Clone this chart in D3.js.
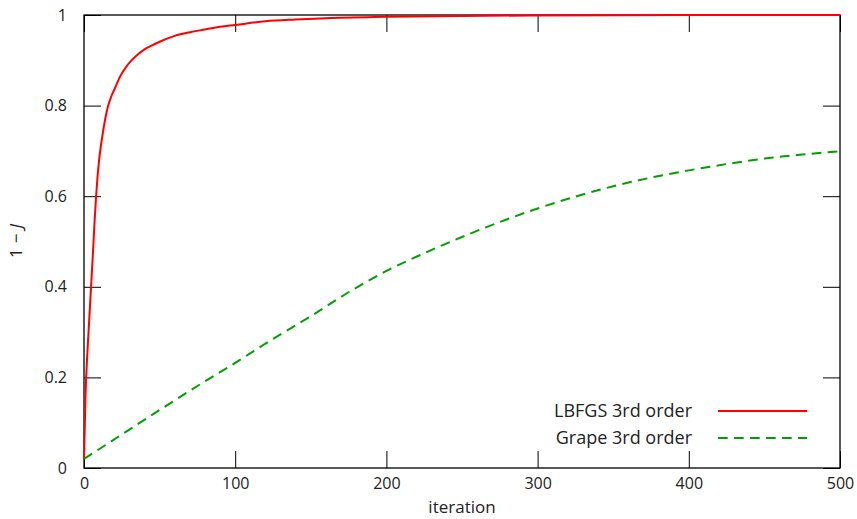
<!DOCTYPE html>
<html>
<head>
<meta charset="utf-8">
<script src="https://cdn.jsdelivr.net/npm/d3@7"></script>
<style>
  html, body { margin: 0; padding: 0; background: #fff; }
  svg text { font-family: "Open Sans", "DejaVu Sans", sans-serif; fill: #222; }
</style>
</head>
<body>
<svg id="chart" width="857" height="519"></svg>
<script>
// Convergence of 1 - J over the optimisation iterations
const lbfgsIter = [0, 1, 2, 3, 4, 5, 6, 7, 8, 9, 10, 12, 14, 16, 18, 20, 24, 28, 32, 36, 40, 45, 50, 60, 70, 80, 90, 100, 120, 140, 160, 200, 250, 300, 400, 500];
const lbfgsVal  = [0.02, 0.16, 0.24, 0.30, 0.36, 0.42, 0.48, 0.545, 0.60, 0.645, 0.68, 0.73, 0.77, 0.80, 0.82, 0.835, 0.865, 0.886, 0.902, 0.914, 0.924, 0.933, 0.941, 0.954, 0.962, 0.968, 0.974, 0.978, 0.986, 0.990, 0.993, 0.996, 0.998, 0.999, 1.0, 1.0];

const grapeIter = [0, 25, 50, 75, 100, 125, 150, 175, 200, 225, 250, 275, 300, 325, 350, 375, 400, 425, 450, 475, 500];
const grapeVal  = [0.020, 0.074, 0.128, 0.181, 0.232, 0.285, 0.335, 0.388, 0.435, 0.474, 0.510, 0.543, 0.573, 0.599, 0.622, 0.641, 0.657, 0.671, 0.683, 0.692, 0.699];

const xTicks = [0, 100, 200, 300, 400, 500];
const yTicks = [0, 0.2, 0.4, 0.6, 0.8, 1];
const seriesNames = ["LBFGS 3rd order", "Grape 3rd order"];

const svg = d3.select("#chart");
const plotLeft = 84, plotRight = 840, plotTop = 15, plotBottom = 468;
const tickLen = 17;

const x = d3.scaleLinear().domain([0, 500]).range([plotLeft, plotRight]);
const y = d3.scaleLinear().domain([0, 1]).range([plotBottom, plotTop]);

const fmtY = d => (d === 0 || d === 1) ? String(d) : d.toFixed(1);

function styleAxis(g) {
  g.select(".domain").remove();
  g.selectAll("line").attr("stroke", "#000").attr("stroke-width", 1);
  g.selectAll("text").attr("font-size", 16).attr("fill", "#222")
    .style("font-family", '"Open Sans", "DejaVu Sans", sans-serif');
}

svg.append("g").attr("transform", `translate(0,${plotBottom})`)
  .call(d3.axisBottom(x).tickValues(xTicks).tickSizeInner(-tickLen).tickSizeOuter(0).tickPadding(9.6))
  .call(styleAxis);
svg.append("g").attr("transform", `translate(0,${plotTop})`)
  .call(d3.axisTop(x).tickValues(xTicks).tickSizeInner(-tickLen).tickSizeOuter(0).tickFormat(""))
  .call(styleAxis);
svg.append("g").attr("transform", `translate(${plotLeft},0)`)
  .call(d3.axisLeft(y).tickValues(yTicks).tickSizeInner(-tickLen).tickSizeOuter(0).tickPadding(17).tickFormat(fmtY))
  .call(styleAxis);
svg.append("g").attr("transform", `translate(${plotRight},0)`)
  .call(d3.axisRight(y).tickValues(yTicks).tickSizeInner(-tickLen).tickSizeOuter(0).tickFormat(""))
  .call(styleAxis);

// plot frame
svg.append("rect")
  .attr("x", plotLeft).attr("y", plotTop)
  .attr("width", plotRight - plotLeft).attr("height", plotBottom - plotTop)
  .attr("fill", "none").attr("stroke", "#000").attr("stroke-width", 1.3);

const line = d3.line().x(d => x(d[0])).y(d => y(d[1])).curve(d3.curveMonotoneX);

const series = [
  { name: seriesNames[0], pts: d3.zip(lbfgsIter, lbfgsVal), color: "#ff0000", dash: null },
  { name: seriesNames[1], pts: d3.zip(grapeIter, grapeVal), color: "#00a000", dash: "9.7,6.3" }
];

series.forEach(s => {
  svg.append("path").datum(s.pts)
    .attr("d", line)
    .attr("fill", "none")
    .attr("stroke", s.color)
    .attr("stroke-width", 2)
    .attr("stroke-dasharray", s.dash);
});

// legend
const legend = svg.append("g");
series.forEach((s, i) => {
  const ly = 411 + i * 27;
  legend.append("text")
    .attr("x", 692).attr("y", ly + 5.5)
    .attr("text-anchor", "end").attr("font-size", 18)
    .text(s.name);
  legend.append("line")
    .attr("x1", 718).attr("x2", 807).attr("y1", ly).attr("y2", ly)
    .attr("stroke", s.color).attr("stroke-width", 2)
    .attr("stroke-dasharray", s.dash);
});

// axis titles
svg.append("text")
  .attr("x", 462).attr("y", 513)
  .attr("text-anchor", "middle").attr("font-size", 17)
  .text("iteration");

const yTitle = svg.append("text")
  .attr("transform", "translate(22,241) rotate(-90)")
  .attr("text-anchor", "middle").attr("font-size", 17);
yTitle.append("tspan").text("1");
yTitle.append("tspan").attr("dx", 5).text("\u2212");
yTitle.append("tspan").attr("dx", 5).attr("font-style", "italic").text("J");
</script>
</body>
</html>
